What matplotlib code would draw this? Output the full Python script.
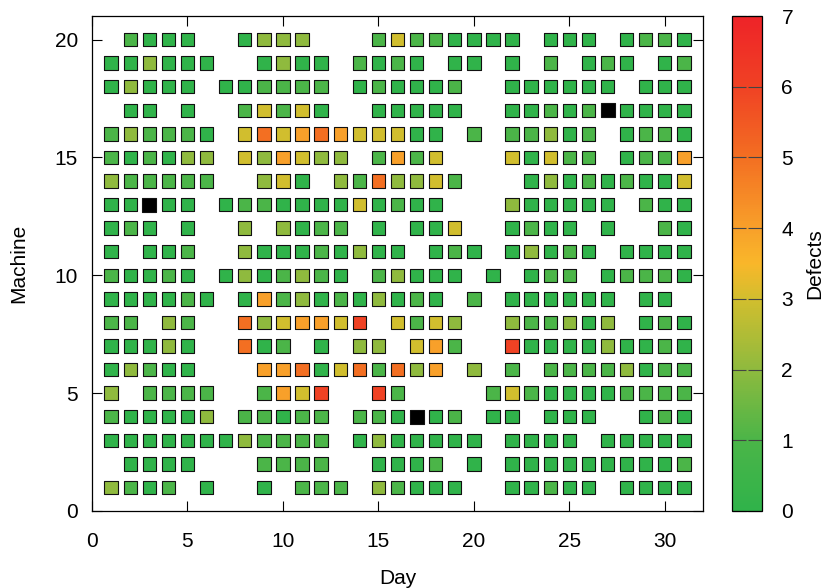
import numpy as np
import matplotlib
matplotlib.use("Agg")
import matplotlib.pyplot as plt
from matplotlib.colors import LinearSegmentedColormap, Normalize

plt.rcParams['font.family'] = ['Liberation Sans', 'DejaVu Sans']

days = np.arange(1, 32)
machines = np.arange(20, 0, -1)

# one string per machine, one character per day:
# digit = defects, '.' = no run, 'x' = sensor fault (shown black)
defect_rows = [
    ".1000" "..022" "2...1" "31100" "00.00" "0.0110",   # 20
    "00200" "0..02" "00.10" "10.00" ".0.1." "010.01",   # 19
    "02000" ".0011" "11.01" "0001." ".0000" "00.000",   # 18
    ".00.0" "..131" "30..0" "0000." ".0010" "1x0000",   # 17
    "12111" "0.353" "45433" "300.1" ".1120" "1.0110",   # 16
    "10102" "2.324" "322.1" "413.." ".3031" "1.0114",   # 15
    "21111" "1..23" "0.215" "2231." "..020" "101003",   # 14
    "00x00" ".0110" "00030" "100.." ".2000" "00.100",   # 13
    "010.0" "..2.2" "011.0" ".003." ".0100" ".0..10",   # 12
    "0.001" "..200" "01020" "0.010" ".0201" "0.0000",   # 11
    "10010" ".0201" "210.1" "2000." "0.011" ".01110",   # 10
    "00001" "0.041" "20102" "010.1" ".0000" "00.00.",   # 9
    "11.21" "..523" "4436." "3132." ".2112" "02.010",   # 8
    "00020" "..501" ".0.22" ".341." ".6000" "020010",   # 7
    "02100" "...44" "50351" "524.2" ".1.11" "112011",   # 6
    "2.111" "1..14" "36..6" "1...." "13100" "001111",   # 5
    "10000" "2.110" "11.11" "0x01." "00.00" "0..010",   # 4
    "00000" "00211" "11.02" "00000" ".0000" ".00000",   # 3
    ".0000" "...11" "11..0" "001.0" ".0000" "000001",   # 2
    "2101." "0..0." "111.2" "1000." ".0010" "0.0000",   # 1
]

xs, ys, vals, bad_x, bad_y = [], [], [], [], []
for m, row in zip(machines, defect_rows):
    for d, ch in zip(days, row):
        if ch == '.':
            continue
        if ch == 'x':
            bad_x.append(d)
            bad_y.append(m)
        else:
            xs.append(d)
            ys.append(m)
            vals.append(int(ch))

cmap = LinearSegmentedColormap.from_list("defects", [
    (0 / 7, '#30b34a'), (1 / 7, '#4bb548'), (2 / 7, '#8fba3e'),
    (3 / 7, '#d2be2e'), (3.5 / 7, '#f9b72a'), (4 / 7, '#f8a02a'),
    (5 / 7, '#f36f22'), (6 / 7, '#f04224'), (7 / 7, '#ee2328')])
norm = Normalize(vmin=0, vmax=7)

fs = 15

fig = plt.figure(figsize=(8.25, 5.88), dpi=100)
ax = fig.add_axes([92 / 825, 77 / 588, 611 / 825, 495 / 588])
cax = fig.add_axes([732 / 825, 77 / 588, 30 / 825, 495 / 588])

ax.scatter(xs, ys, c=vals, cmap=cmap, norm=norm, marker='s', s=92,
           edgecolors='#111111', linewidths=0.8, zorder=3)
ax.scatter(bad_x, bad_y, c='black', marker='s', s=92,
           edgecolors='#111111', linewidths=0.8, zorder=3)

ax.set_xlim(0, 32)
ax.set_ylim(0, 21)
ax.set_xticks(range(0, 31, 5))
ax.set_yticks(range(0, 21, 5))
ax.tick_params(direction='in', length=7, width=0.8, labelsize=fs,
               top=True, right=True)
ax.tick_params(axis='x', pad=15)
ax.tick_params(axis='y', pad=10)
ax.set_xlabel("Day", fontsize=fs)
ax.set_ylabel("Machine", fontsize=fs)
ax.xaxis.set_label_coords(0.5, -0.118)
ax.yaxis.set_label_coords(-0.104, 0.5)
for sp in ax.spines.values():
    sp.set_linewidth(0.9)

sm = plt.cm.ScalarMappable(cmap=cmap, norm=norm)
cb = fig.colorbar(sm, cax=cax)
cb.set_ticks(range(0, 8))
cb.outline.set_linewidth(0.9)
cax.tick_params(direction='in', length=10, width=0.8, color='#444444',
                left=True, right=True, labelsize=fs, pad=14)
cb.set_label("Defects", fontsize=fs)
cax.yaxis.set_label_coords(2.45, 0.5)

fig.savefig("out.png", dpi=100)
